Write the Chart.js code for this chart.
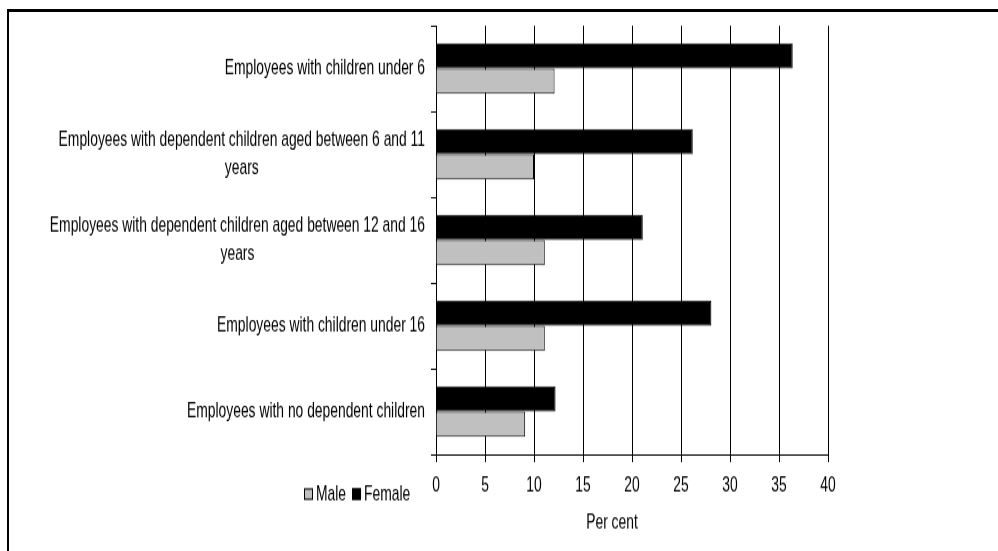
<!DOCTYPE html>
<html>
<head>
<meta charset="utf-8">
<script src="https://cdn.jsdelivr.net/npm/chart.js@4/dist/chart.umd.min.js"></script>
<style>
  html, body { margin: 0; padding: 0; background: #fff; overflow: hidden; width: 998px; height: 551px; }
  #frame { position: absolute; left: 7px; top: 9px; width: 2000px; height: 2000px;
           border-left: 2px solid #000; border-top: 3px solid #000; }
  /* the figure uses a tall, narrow face: draw at base height and stretch vertically */
  #wrap { position: absolute; left: 0; top: 0; width: 998px; height: 431px;
          transform: scaleY(1.28); transform-origin: 0 0; }
</style>
</head>
<body>
<div id="frame"></div>
<div id="wrap"><canvas id="chart" width="998" height="431"></canvas></div>
<script>
// Share of employees, by family situation and sex (per cent)
const categories = [
  ['Employees with children under 6'],
  ['Employees with dependent children aged between 6 and 11', 'years'],
  ['Employees with dependent children aged between 12 and 16', 'years'],
  ['Employees with children under 16'],
  ['Employees with no dependent children']
];
const femaleValues = [36.4, 26.2, 21.1, 28.1, 12.2];
const maleValues = [12.1, 10.0, 11.1, 11.1, 9.1];
const seriesNames = ['Female', 'Male'];
const legendOrder = ['Male', 'Female'];
const xTickValues = [0, 5, 10, 15, 20, 25, 30, 35, 40];
const axisTitle = 'Per cent';

const FONT = '"Liberation Sans", Arial, sans-serif';
const FONT_SIZE = 17;
const NARROW = 0.815;   // horizontal squeeze giving a narrow face

function narrowText(ctx, text, x, y, align) {
  ctx.save();
  ctx.translate(x, y);
  ctx.scale(NARROW, 1);
  ctx.textAlign = align;
  ctx.fillText(text, 0, 0);
  ctx.restore();
}
function narrowWidth(ctx, text) {
  return ctx.measureText(text).width * NARROW;
}

// category labels (block centred on its longest line, right edge near the axis),
// tick labels, the axis title and the legend row beside the tick labels
const sideText = {
  id: 'sideText',
  afterDraw(chart) {
    const { ctx, scales: { x, y } } = chart;
    ctx.save();
    ctx.font = FONT_SIZE + 'px ' + FONT;
    ctx.fillStyle = '#000';
    ctx.textBaseline = 'middle';

    const rightEdge = y.right - 11;
    const lineH = 21.5;
    chart.data.labels.forEach((lines, i) => {
      const cy = y.getPixelForValue(i);
      const w = Math.max(...lines.map(l => narrowWidth(ctx, l)));
      const cx = rightEdge - w / 2;
      lines.forEach((l, k) => {
        narrowText(ctx, l, cx, cy + (k - (lines.length - 1) / 2) * lineH, 'center');
      });
    });

    // x tick labels
    x.ticks.forEach(t => {
      narrowText(ctx, String(t.value), x.getPixelForValue(t.value), 379, 'center');
    });

    // axis title
    narrowText(ctx, axisTitle, (x.left + x.right) / 2 - 20, 408, 'center');

    // legend
    let lx = 304;
    const ly = 386;
    legendOrder.forEach(name => {
      const ds = chart.data.datasets.find(d => d.label === name);
      ctx.fillStyle = ds.backgroundColor;
      ctx.fillRect(lx, ly - 4.5, 9, 9);
      ctx.strokeStyle = '#000';
      ctx.lineWidth = 1;
      ctx.strokeRect(lx + 0.5, ly - 4, 8, 8);
      ctx.fillStyle = '#000';
      narrowText(ctx, name, lx + 12, ly, 'left');
      lx += 12 + narrowWidth(ctx, name) + 6;
    });
    ctx.restore();
  }
};

new Chart(document.getElementById('chart'), {
  type: 'bar',
  data: {
    labels: categories,
    datasets: [
      { label: seriesNames[0], data: femaleValues, backgroundColor: '#000000',
        borderColor: '#000000', borderWidth: 1 },
      { label: seriesNames[1], data: maleValues, backgroundColor: '#c0c0c0',
        borderColor: '#000000', borderWidth: 1 }
    ]
  },
  options: {
    indexAxis: 'y',
    responsive: false,
    animation: false,
    devicePixelRatio: 1,
    layout: { padding: { left: 0, top: 20, right: 170, bottom: 0 } },
    datasets: { bar: { categoryPercentage: 0.59, barPercentage: 1.0 } },
    plugins: { legend: { display: false }, tooltip: { enabled: false } },
    scales: {
      x: {
        min: xTickValues[0], max: xTickValues[xTickValues.length - 1],
        afterBuildTicks(s) { s.ticks = xTickValues.map(v => ({ value: v })); },
        ticks: { display: false },
        grid: { color: '#000', lineWidth: 1, tickLength: 6, drawOnChartArea: true },
        border: { color: '#000', width: 1 },
        afterFit(s) { s.height = 76; }
      },
      y: {
        grid: { display: true, drawOnChartArea: false, offset: true, tickLength: 5, color: '#000' },
        ticks: { display: false },
        border: { color: '#000', width: 1 },
        afterFit(s) { s.width = 436; }
      }
    }
  },
  plugins: [sideText]
});
</script>
</body>
</html>
